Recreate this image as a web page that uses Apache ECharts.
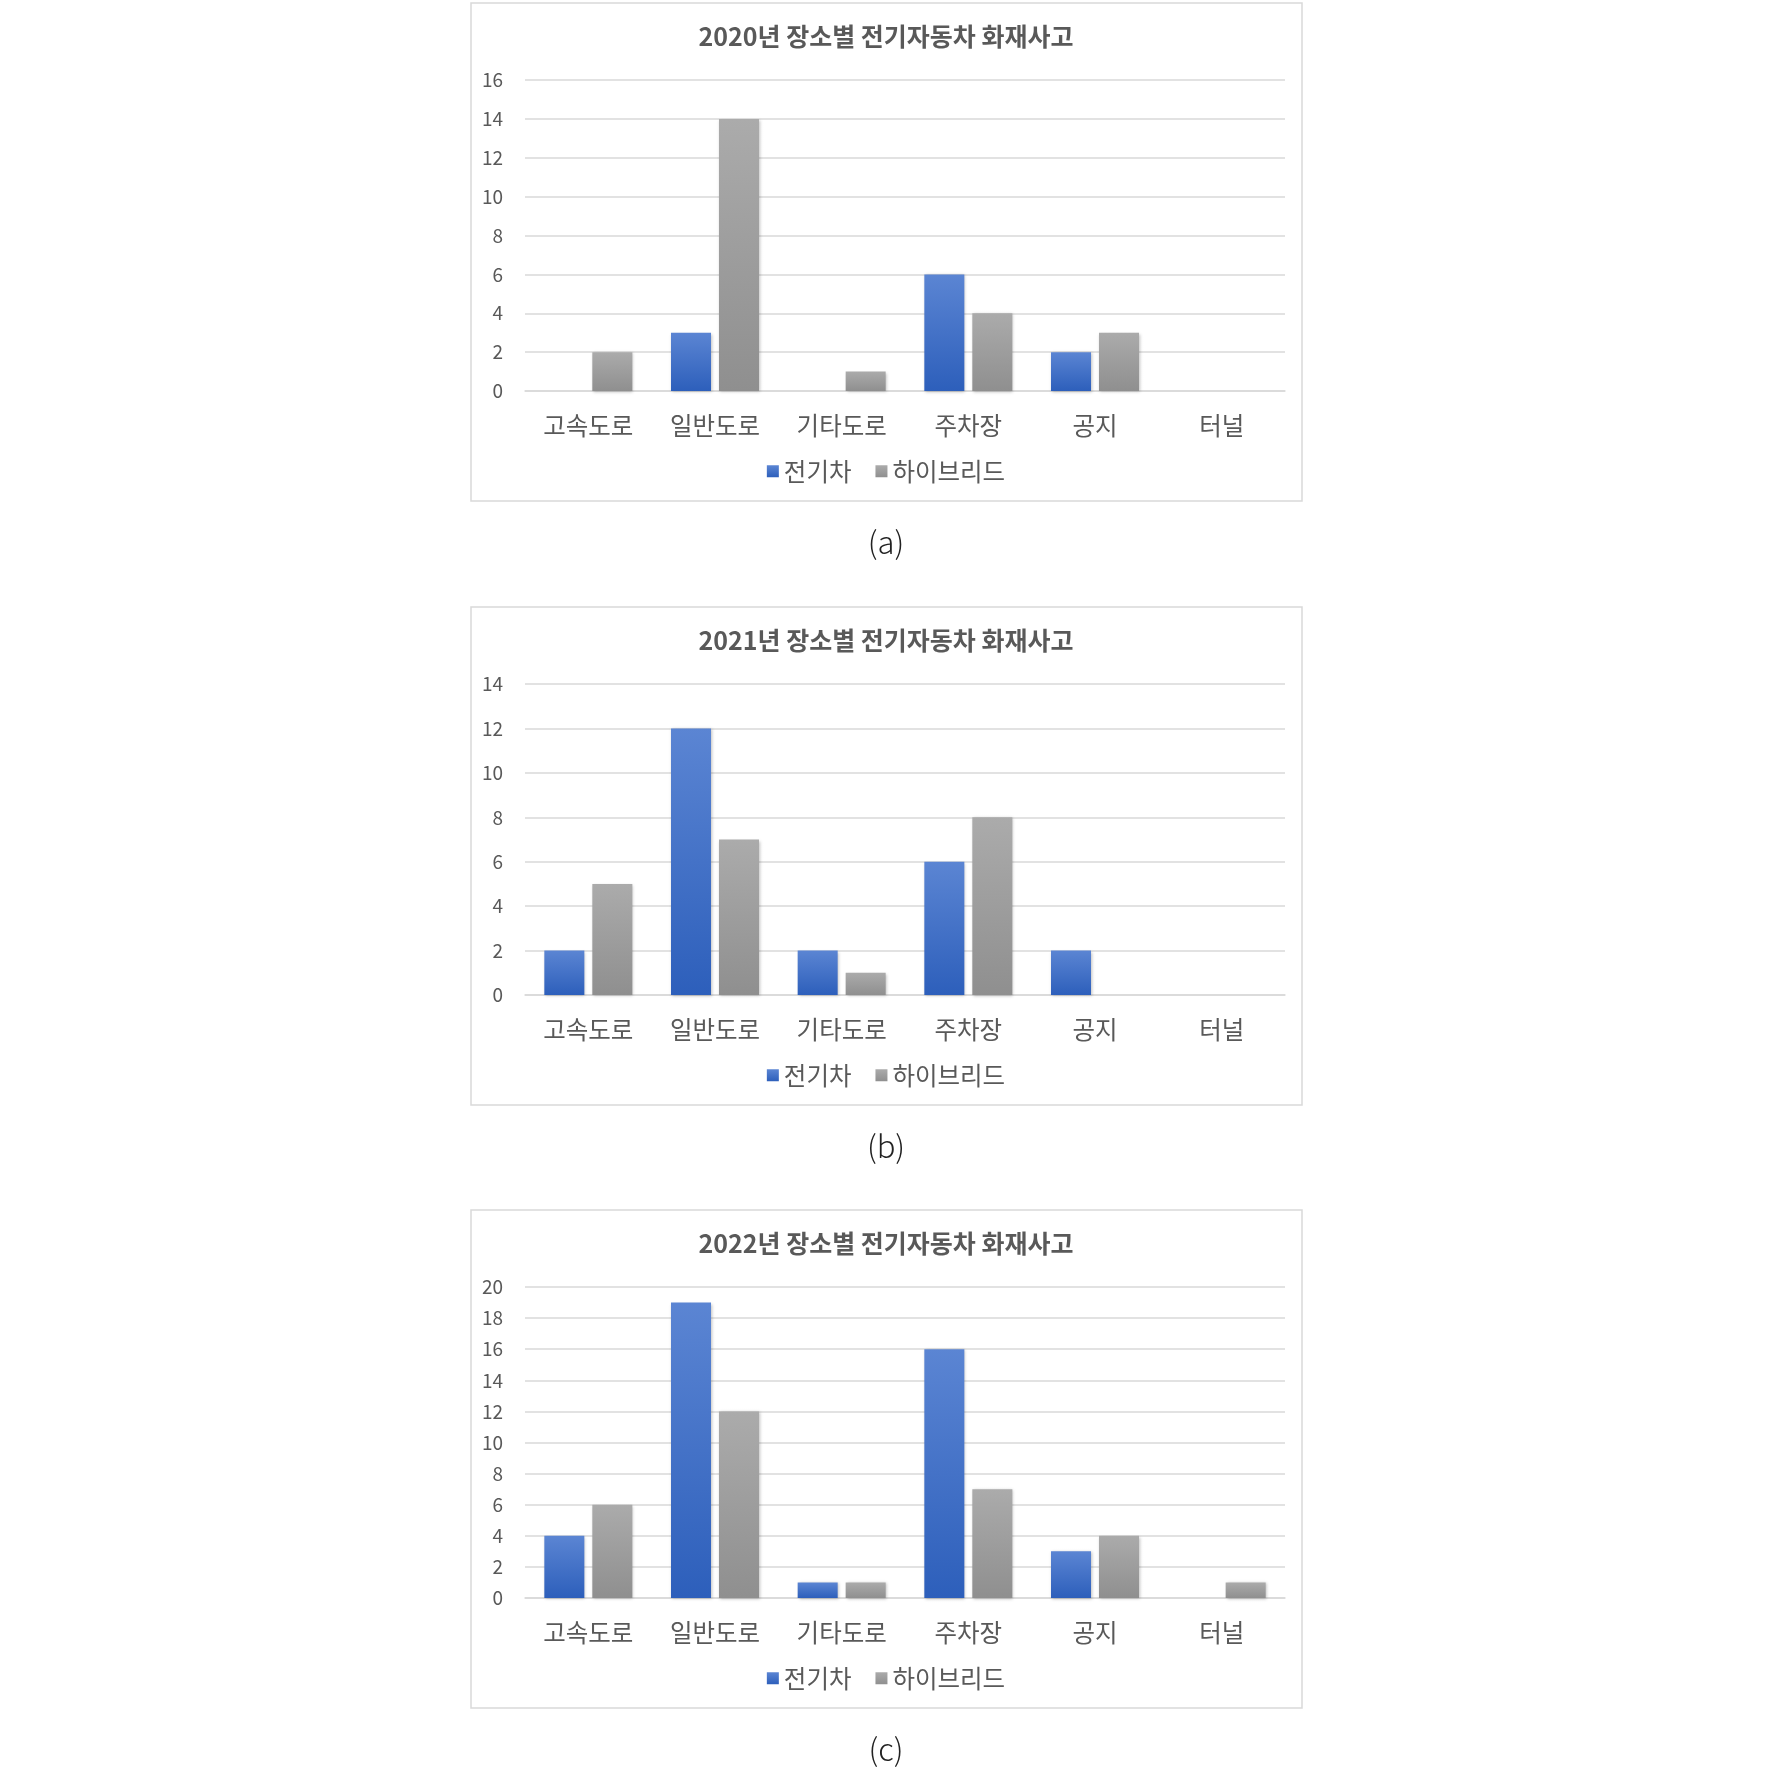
<!DOCTYPE html>
<html>
<head>
<meta charset="utf-8">
<title>장소별 전기자동차 화재사고</title>
<script src="https://cdn.jsdelivr.net/npm/echarts@6/dist/echarts.min.js"></script>
<style>
	html, body { margin: 0; padding: 0; background: #fff; }
	#main { width: 1772px; height: 1770px; }
</style>
</head>
<body>
<div id="main"></div>
<script>
// 장소 (x축)
let places = ['고속도로', '일반도로', '기타도로', '주차장', '공지', '터널'];
let years = ['2020', '2021', '2022'];
let captions = ['(a)', '(b)', '(c)'];
let seriesNames = ['전기차', '하이브리드'];
// 연도별 화재건수
let ev2020 = [0, 3, 0, 6, 2, 0];
let hybrid2020 = [2, 14, 1, 4, 3, 0];
let ev2021 = [2, 12, 2, 6, 2, 0];
let hybrid2021 = [5, 7, 1, 8, 0, 0];
let ev2022 = [4, 19, 1, 16, 3, 0];
let hybrid2022 = [6, 12, 1, 7, 4, 1];
// y축 눈금
let yMax = [16, 14, 20];
let yStep = 2;

let evData = [ev2020, ev2021, ev2022];
let hybridData = [hybrid2020, hybrid2021, hybrid2022];

// 각 패널 테두리 위치 (y)
let panelTop = [3, 607, 1210];
const FONT = '"Noto Sans CJK KR", "Noto Sans", sans-serif';
const textColor = '#595959';
const lineColor = '#d9d9d9';

let blueFill = new echarts.graphic.LinearGradient(0, 0, 0, 1, [
	{ offset: 0, color: '#5b85d3' },
	{ offset: 1, color: '#2d5fbb' }
]);
let grayFill = new echarts.graphic.LinearGradient(0, 0, 0, 1, [
	{ offset: 0, color: '#ababab' },
	{ offset: 1, color: '#8f8f8f' }
]);

let titles = [], grids = [], xAxes = [], yAxes = [], legends = [], series = [], frames = [];

years.forEach((year, i) => {
	let top = panelTop[i];
	titles.push({
		text: year + '년 장소별 전기자동차 화재사고',
		left: 'center',
		top: top + 21,
		padding: 0,
		textStyle: { fontFamily: FONT, fontSize: 25, fontWeight: 'bold', color: textColor }
	});
	titles.push({
		text: captions[i],
		left: 'center',
		top: top + 524,
		padding: 0,
		textStyle: { fontFamily: FONT, fontSize: 31, fontWeight: 300, color: '#222' }
	});
	grids.push({ left: 525, top: top + 77, width: 760, height: 311 });
	xAxes.push({
		type: 'category',
		gridIndex: i,
		data: places,
		axisLine: { lineStyle: { color: lineColor, width: 1.5 } },
		axisTick: { show: false },
		axisLabel: { fontFamily: FONT, fontSize: 24.5, color: textColor, margin: 22 }
	});
	yAxes.push({
		type: 'value',
		gridIndex: i,
		min: 0,
		max: yMax[i],
		interval: yStep,
		axisLine: { show: false },
		axisTick: { show: false },
		splitLine: { lineStyle: { color: lineColor, width: 1.5 } },
		axisLabel: { fontFamily: FONT, fontSize: 19, color: textColor, margin: 22 }
	});
	legends.push({
		data: seriesNames,
		left: 'center',
		top: top + 456,
		padding: 0,
		icon: 'rect',
		itemWidth: 12,
		itemHeight: 12,
		itemGap: 24,
		textStyle: { fontFamily: FONT, fontSize: 24.5, color: textColor }
	});
	frames.push({
		type: 'rect',
		shape: { x: 471, y: top, width: 831, height: 498 },
		style: { fill: 'none', stroke: lineColor, lineWidth: 1.5 },
		silent: true
	});
	[evData[i], hybridData[i]].forEach((values, k) => {
		series.push({
			name: seriesNames[k],
			type: 'bar',
			xAxisIndex: i,
			yAxisIndex: i,
			barWidth: 40,
			barGap: '20%',
			itemStyle: {
				color: k === 0 ? blueFill : grayFill,
				shadowColor: 'rgba(0,0,0,0.25)',
				shadowBlur: 3,
				shadowOffsetX: 1,
				shadowOffsetY: 1
			},
			emphasis: { disabled: true },
			data: values.map(v => v === 0 ? null : v)
		});
	});
});

let option = {
	backgroundColor: '#fff',
	color: ['#3a6cc8', '#a0a0a0'],
	animation: false,
	title: titles,
	grid: grids,
	xAxis: xAxes,
	yAxis: yAxes,
	legend: legends,
	graphic: frames,
	series: series
};

let myChart = echarts.init(document.getElementById('main'));
myChart.setOption(option);
</script>
</body>
</html>
